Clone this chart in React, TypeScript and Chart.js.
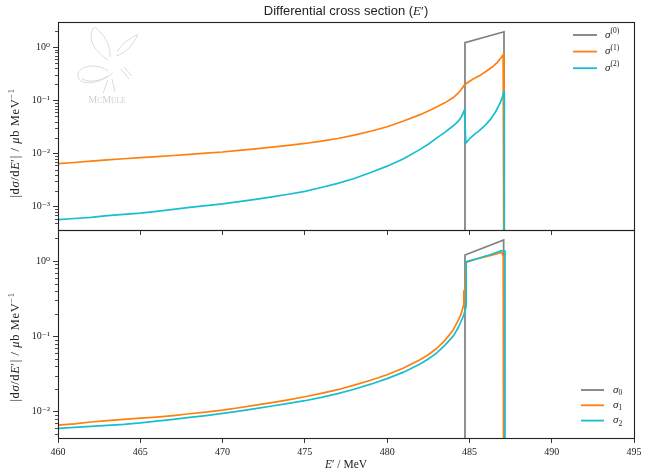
import React, { useEffect, useRef } from 'react';
import { Chart, registerables } from 'chart.js';
Chart.register(...registerables);

const GREY = '#7f7f7f';
const ORANGE = '#ff7f0e';
const CYAN = '#17becf';

// shared x axis (E' / MeV)
const xMin = 460;
const xMax = 495;
const xStep = 5;

// value used where the histogram drops to zero (off the log scale)
const FLOOR = 1e-5;

// ---------- top panel: sigma^(0), sigma^(1), sigma^(2) ----------
const topYMin = 3.65e-4;
const topYMax = 2.99;

const topGreyE = [484.73, 484.73, 487.1, 487.1];
const topGreyV = [FLOOR, 1.22, 1.96, FLOOR];

const topOrangeE = [460, 461, 462, 463, 464, 465, 466, 467, 468, 469, 470, 471, 472, 473, 474, 475, 476, 477, 478, 479, 480, 481, 482, 482.5, 483, 483.5, 484, 484.3, 484.5, 484.7, 484.83, 485.2, 485.6, 486.0, 486.4, 486.7, 486.9, 487.05, 487.1, 487.1];
const topOrangeV = [0.0065, 0.0068, 0.0072, 0.0076, 0.0080, 0.0084, 0.0088, 0.0092, 0.0097, 0.0102, 0.0107, 0.0115, 0.0123, 0.0132, 0.0143, 0.0155, 0.0171, 0.0192, 0.0222, 0.0263, 0.032, 0.041, 0.054, 0.063, 0.075, 0.090, 0.112, 0.135, 0.16, 0.196, 0.21, 0.25, 0.29, 0.35, 0.43, 0.52, 0.62, 0.72, 0.77, FLOOR];

const topCyanE = [460, 461, 462, 463, 464, 465, 466, 467, 468, 469, 470, 471, 472, 473, 474, 475, 476, 477, 478, 479, 480, 481, 482, 482.5, 483, 483.5, 484, 484.3, 484.5, 484.7, 484.78, 485.0, 485.3, 485.6, 486.0, 486.3, 486.6, 486.86, 487.0, 487.1, 487.12, 487.12];
const topCyanV = [5.7e-4, 6.0e-4, 6.3e-4, 6.8e-4, 7.2e-4, 7.6e-4, 8.2e-4, 8.9e-4, 9.7e-4, 1.05e-3, 1.13e-3, 1.25e-3, 1.38e-3, 1.53e-3, 1.72e-3, 1.95e-3, 2.3e-3, 2.75e-3, 3.4e-3, 4.4e-3, 5.8e-3, 8.0e-3, 0.012, 0.015, 0.0195, 0.025, 0.033, 0.040, 0.048, 0.066, 0.0157, 0.019, 0.023, 0.027, 0.035, 0.045, 0.062, 0.089, 0.115, 0.146, 0.146, FLOOR];

// ---------- bottom panel: sigma_0, sigma_1, sigma_2 ----------
const botYMin = 4.48e-3;
const botYMax = 2.58;

const botGreyE = [484.73, 484.73, 487.08, 487.08];
const botGreyV = [FLOOR, 1.20, 1.90, FLOOR];

const botOrangeE = [460, 461, 462, 463, 464, 465, 466, 467, 468, 469, 470, 471, 472, 473, 474, 475, 476, 477, 478, 479, 480, 481, 482, 482.5, 483, 483.5, 484, 484.3, 484.5, 484.62, 484.66, 484.7, 484.78, 485.5, 486.3, 486.96, 487.06, 487.1, 487.1];
const botOrangeV = [0.00665, 0.0069, 0.0073, 0.0076, 0.0079, 0.0082, 0.0085, 0.0089, 0.0094, 0.0099, 0.0105, 0.0113, 0.0122, 0.0132, 0.0144, 0.0158, 0.0175, 0.0196, 0.0225, 0.0262, 0.031, 0.038, 0.049, 0.057, 0.069, 0.088, 0.12, 0.16, 0.20, 0.25, 0.41, 0.30, 0.96, 1.07, 1.19, 1.30, 1.14, 1.14, FLOOR];

const botCyanE = [460, 461, 462, 463, 464, 465, 466, 467, 468, 469, 470, 471, 472, 473, 474, 475, 476, 477, 478, 479, 480, 481, 482, 482.5, 483, 483.5, 484, 484.3, 484.5, 484.65, 484.8, 484.8, 485.5, 486.3, 486.96, 487.1, 487.16, 487.16];
const botCyanV = [0.0060, 0.0062, 0.0064, 0.0066, 0.0068, 0.0071, 0.0075, 0.0079, 0.0084, 0.0089, 0.0095, 0.0102, 0.0110, 0.0119, 0.0129, 0.0140, 0.0155, 0.0174, 0.0199, 0.0232, 0.0275, 0.0335, 0.043, 0.050, 0.060, 0.076, 0.10, 0.128, 0.16, 0.19, 0.25, 0.98, 1.08, 1.22, 1.37, 1.35, 1.35, FLOOR];

const topLegend = [
  { color: GREY, base: 'σ', script: '(0)', sup: true },
  { color: ORANGE, base: 'σ', script: '(1)', sup: true },
  { color: CYAN, base: 'σ', script: '(2)', sup: true },
];
const botLegend = [
  { color: GREY, base: 'σ', script: '0', sup: false },
  { color: ORANGE, base: 'σ', script: '1', sup: false },
  { color: CYAN, base: 'σ', script: '2', sup: false },
];

const SERIF = '"Liberation Serif", "DejaVu Serif", serif';
const SANS = '"Liberation Sans", "DejaVu Sans", sans-serif';
const AXIS = '#222';

const SUP: Record<string, string> = { '-': '⁻', '0': '⁰', '1': '¹', '2': '²', '3': '³', '4': '⁴' };

function isPow10(v: number) {
  const l = Math.log10(v);
  return Math.abs(l - Math.round(l)) < 1e-9;
}
function isNice(v: number) {
  if (!(v > 0)) return false;
  const e = Math.floor(Math.log10(v) + 1e-9);
  const s = v / Math.pow(10, e);
  return Math.abs(s - Math.round(s)) < 1e-6;
}

type Part = { t: string; f: string; dy?: number };
function partsWidth(ctx: CanvasRenderingContext2D, parts: Part[]) {
  let w = 0;
  for (const p of parts) { ctx.font = p.f; w += ctx.measureText(p.t).width; }
  return w;
}
function drawParts(ctx: CanvasRenderingContext2D, parts: Part[], x: number, y: number) {
  let cx = x;
  for (const p of parts) {
    ctx.font = p.f;
    ctx.fillText(p.t, cx, y + (p.dy || 0));
    cx += ctx.measureText(p.t).width;
  }
}

function drawLogo(ctx: CanvasRenderingContext2D) {
  ctx.save();
  ctx.strokeStyle = '#d6d6d6';
  ctx.lineWidth = 0.9;
  ctx.beginPath();
  // left wing
  ctx.moveTo(94, 27); ctx.bezierCurveTo(86, 40, 96, 52, 108, 60);
  ctx.moveTo(95, 27); ctx.bezierCurveTo(104, 34, 111, 46, 110, 57);
  // right wing
  ctx.moveTo(138, 34); ctx.bezierCurveTo(133, 47, 123, 54, 116, 56);
  ctx.moveTo(137, 35); ctx.bezierCurveTo(128, 39, 121, 45, 117, 52);
  // abdomen
  ctx.moveTo(108, 71); ctx.bezierCurveTo(96, 62, 76, 66, 78, 77);
  ctx.bezierCurveTo(80, 86, 100, 84, 113, 73);
  ctx.moveTo(82, 79); ctx.bezierCurveTo(90, 83, 100, 81, 108, 76);
  // legs
  ctx.moveTo(108, 80); ctx.lineTo(103, 93);
  ctx.moveTo(112, 79); ctx.lineTo(115, 92);
  ctx.moveTo(121, 69); ctx.lineTo(129, 79);
  ctx.moveTo(124, 67); ctx.lineTo(132, 76);
  ctx.stroke();
  ctx.fillStyle = '#d0d0d0';
  ctx.textBaseline = 'alphabetic';
  const parts: Part[] = [
    { t: 'M', f: `10px ${SERIF}` },
    { t: 'C', f: `7.5px ${SERIF}` },
    { t: 'M', f: `10px ${SERIF}` },
    { t: 'ULE', f: `7.5px ${SERIF}` },
  ];
  const w = partsWidth(ctx, parts);
  drawParts(ctx, parts, 107 - w / 2, 103);
  ctx.restore();
}

type Series = { e: number[]; v: number[]; color: string; order: number };
type Panel = {
  series: Series[];
  yMin: number;
  yMax: number;
  padTop: number;
  xH: number;
  showX: boolean;
  legend: typeof topLegend;
  legendTop: boolean;
  yTitleOffset: number;
  title: boolean;
};

function makeConfig(panel: Panel): any {
  const decor = {
    id: 'decor',
    afterDraw(chart: any) {
      const ctx: CanvasRenderingContext2D = chart.ctx;
      const a = chart.chartArea;
      ctx.save();
      // minor y ticks (shorter)
      const ys = chart.scales.y;
      ctx.strokeStyle = AXIS;
      ctx.lineWidth = 0.8;
      ctx.beginPath();
      for (const t of ys.ticks) {
        if (isNice(t.value) && !isPow10(t.value)) {
          const py = Math.round(ys.getPixelForValue(t.value)) + 0.5;
          if (py > a.top + 0.5 && py < a.bottom - 0.5) {
            ctx.moveTo(a.left - 3, py);
            ctx.lineTo(a.left, py);
          }
        }
      }
      ctx.stroke();
      // frame
      ctx.strokeStyle = AXIS;
      ctx.lineWidth = 1.1;
      ctx.strokeRect(Math.round(a.left) + 0.5, Math.round(a.top) + 0.5, Math.round(a.right - a.left), Math.round(a.bottom - a.top));
      // legend
      ctx.textBaseline = 'alphabetic';
      ctx.textAlign = 'left';
      panel.legend.forEach((it, i) => {
        let y: number, x0: number, x1: number, tx: number;
        if (panel.legendTop) {
          y = a.top + 13 + i * 16.6;
          x0 = a.right - 61; x1 = a.right - 37; tx = a.right - 29;
        } else {
          y = a.bottom - 48 + i * 15.3;
          x0 = a.right - 53; x1 = a.right - 30; tx = a.right - 21;
        }
        ctx.strokeStyle = it.color;
        ctx.lineWidth = 1.8;
        ctx.beginPath();
        ctx.moveTo(x0, y); ctx.lineTo(x1, y);
        ctx.stroke();
        ctx.fillStyle = '#222';
        drawParts(ctx, [
          { t: it.base, f: `italic 11px ${SERIF}` },
          { t: it.script, f: `7.5px ${SERIF}`, dy: it.sup ? -4.5 : 2.5 },
        ], tx, y + 2.5);
      });
      // y axis title
      ctx.fillStyle = '#222';
      ctx.save();
      const cy = (a.top + a.bottom) / 2 + panel.yTitleOffset;
      ctx.translate(14.5, cy);
      ctx.rotate(-Math.PI / 2);
      const R = `12.5px ${SERIF}`;
      const I = `italic 12.5px ${SERIF}`;
      (ctx as any).letterSpacing = '0.6px';
      const yparts: Part[] = [
        { t: '|d', f: R }, { t: 'σ', f: I }, { t: '/d', f: R }, { t: 'E', f: I }, { t: '′', f: R },
        { t: '| / ', f: R }, { t: 'μ', f: I }, { t: 'b MeV', f: R }, { t: '−1', f: `8.5px ${SERIF}`, dy: -5 },
      ];
      const yw = partsWidth(ctx, yparts);
      drawParts(ctx, yparts, -yw / 2, 4);
      (ctx as any).letterSpacing = '0px';
      ctx.restore();
      // x axis title
      if (panel.showX) {
        const XR = `11.5px ${SERIF}`;
        const xparts: Part[] = [
          { t: 'E', f: `italic 11.5px ${SERIF}` }, { t: '′', f: XR }, { t: ' / MeV', f: XR },
        ];
        const xw = partsWidth(ctx, xparts);
        drawParts(ctx, xparts, (a.left + a.right) / 2 - xw / 2, chart.height - 4.5);
      }
      // title + logo
      if (panel.title) {
        const tparts: Part[] = [
          { t: 'Differential cross section (', f: `13px ${SANS}` },
          { t: 'E', f: `italic 13px ${SERIF}` },
          { t: '′', f: `13px ${SERIF}` },
          { t: ')', f: `13px ${SANS}` },
        ];
        const tw = partsWidth(ctx, tparts);
        drawParts(ctx, tparts, (a.left + a.right) / 2 - tw / 2, 15);
        drawLogo(ctx);
      }
      ctx.restore();
    },
  };

  return {
    type: 'line',
    data: {
      datasets: panel.series.map((s) => ({
        data: s.e.map((x, i) => ({ x, y: s.v[i] })),
        borderColor: s.color,
        backgroundColor: s.color,
        borderWidth: 1.7,
        pointRadius: 0,
        tension: 0,
        fill: false,
        order: s.order,
      })),
    },
    options: {
      responsive: false,
      animation: false,
      devicePixelRatio: 1,
      events: [],
      layout: { padding: { top: panel.padTop, right: 17, left: 0, bottom: 0 } },
      plugins: { legend: { display: false }, tooltip: { enabled: false }, title: { display: false } },
      scales: {
        x: {
          type: 'linear',
          min: xMin,
          max: xMax,
          ticks: {
            stepSize: xStep,
            autoSkip: false,
            maxRotation: 0,
            padding: 3,
            color: AXIS,
            font: { family: SERIF, size: 10 },
            callback: (v: number) => (panel.showX ? String(v) : ''),
          },
          grid: { drawOnChartArea: false, drawTicks: true, tickLength: 5, color: AXIS, tickWidth: 0.9 },
          border: { display: false },
          afterFit: (s: any) => { s.height = panel.xH; },
        },
        y: {
          type: 'logarithmic',
          min: panel.yMin,
          max: panel.yMax,
          ticks: {
            autoSkip: false,
            padding: 3,
            color: AXIS,
            font: { family: SERIF, size: 10 },
            callback: (v: number) => {
              if (!isPow10(v)) return '';
              const e = String(Math.round(Math.log10(v)));
              return '10' + e.split('').map((c) => SUP[c] || c).join('');
            },
          },
          grid: {
            drawOnChartArea: false,
            drawTicks: true,
            tickLength: 5,
            tickWidth: 0.9,
            tickColor: (c: any) => (c.tick && isPow10(c.tick.value) ? AXIS : 'rgba(0,0,0,0)'),
          },
          border: { display: false },
          afterFit: (s: any) => { s.width = 58; },
        },
      },
    },
    plugins: [decor],
  };
}

const topPanel: Panel = {
  series: [
    { e: topGreyE, v: topGreyV, color: GREY, order: 3 },
    { e: topOrangeE, v: topOrangeV, color: ORANGE, order: 2 },
    { e: topCyanE, v: topCyanV, color: CYAN, order: 1 },
  ],
  yMin: topYMin,
  yMax: topYMax,
  padTop: 22,
  xH: 10,
  showX: false,
  legend: topLegend,
  legendTop: true,
  yTitleOffset: 17,
  title: true,
};

const botPanel: Panel = {
  series: [
    { e: botGreyE, v: botGreyV, color: GREY, order: 3 },
    { e: botOrangeE, v: botOrangeV, color: ORANGE, order: 2 },
    { e: botCyanE, v: botCyanV, color: CYAN, order: 1 },
  ],
  yMin: botYMin,
  yMax: botYMax,
  padTop: 10,
  xH: 34,
  showX: true,
  legend: botLegend,
  legendTop: false,
  yTitleOffset: 13,
  title: false,
};

export default function App() {
  const topRef = useRef<HTMLCanvasElement>(null);
  const botRef = useRef<HTMLCanvasElement>(null);
  useEffect(() => {
    const c1 = new Chart(topRef.current as HTMLCanvasElement, makeConfig(topPanel));
    const c2 = new Chart(botRef.current as HTMLCanvasElement, makeConfig(botPanel));
    return () => {
      c1.destroy();
      c2.destroy();
    };
  }, []);
  return (
    <div style={{ position: 'absolute', left: 0, top: 0, width: 651, height: 472, background: '#fff' }}>
      <canvas ref={topRef} width={651} height={240} style={{ position: 'absolute', left: 0, top: 0, width: 651, height: 240 }} />
      <canvas ref={botRef} width={651} height={252} style={{ position: 'absolute', left: 0, top: 220, width: 651, height: 252 }} />
    </div>
  );
}
